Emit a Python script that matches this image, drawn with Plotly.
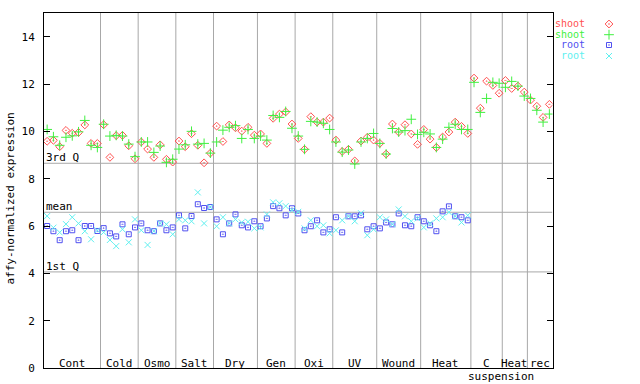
import plotly.graph_objects as go

# ---- data ----
groups = ["Cont", "Cold", "Osmo", "Salt", "Dry", "Gen", "Oxi", "UV", "Wound", "Heat", "C", "Heat", "rec"]
group_sizes = [9, 6, 6, 6, 7, 6, 6, 7, 7, 8, 5, 4, 4]

shoot_1 = [9.58, 9.62, 9.35, 10.04, 9.92, 9.95, 10.27, 9.49, 9.49,
           10.28, 8.90, 9.82, 9.83, 9.39, 8.84,
           9.55, 9.25, 8.90, 9.43, 8.82, 8.70,
           9.59, 9.35, 9.90, 9.41, 8.67, 9.08,
           10.22, 9.57, 10.27, 10.15, 10.01, 10.17, 9.84,
           9.89, 9.49, 10.55, 10.73, 10.82, 10.31,
           9.70, 9.24, 10.62, 10.39, 10.39, 10.56,
           9.63, 9.15, 9.24, 8.75, 9.59, 9.75, 9.63,
           9.49, 9.04, 10.31, 9.97, 10.28, 9.89, 9.45,
           10.08, 9.67, 9.32, 9.76, 9.97, 10.39, 10.21, 9.91,
           12.25, 10.98, 12.12, 11.94, 11.61,
           12.15, 11.81, 11.91, 11.66,
           11.32, 11.06, 10.59, 11.14]
shoot_2 = [10.08, 9.77, 9.41, 9.75, 9.81, 9.98, 10.46, 9.41, 9.32,
           10.30, 9.80, 9.83, 9.80, 9.46, 8.93,
           9.55, 9.55, 9.11, 9.38, 8.69, 8.82,
           9.25, 9.43, 10.00, 9.46, 9.49, 9.08,
           9.55, 10.05, 10.17, 10.24, 9.70, 10.08, 9.70,
           9.80, 9.63, 10.67, 10.59, 10.84, 10.13,
           9.80, 9.24, 10.42, 10.39, 10.34, 10.08,
           9.55, 9.12, 9.21, 8.62, 9.55, 9.70, 9.91,
           9.49, 9.04, 10.12, 9.97, 10.03, 10.51, 9.87,
           9.96, 9.89, 9.32, 9.67, 10.17, 10.30, 10.08, 10.08,
           12.07, 10.80, 11.39, 12.07, 12.03,
           11.86, 12.11, 11.91, 11.49,
           11.39, 10.89, 10.39, 10.73]
root_1 = [6.00, 5.78, 5.40, 5.78, 5.82, 5.40, 6.00, 6.00, 5.79,
          5.91, 5.69, 5.56, 6.07, 5.65, 5.94,
          6.11, 5.82, 5.78, 6.11, 5.82, 5.94,
          6.45, 5.90, 6.42, 6.92, 6.76, 6.80,
          6.28, 5.65, 6.11, 6.49, 6.03, 5.94, 6.20,
          5.99, 6.32, 6.84, 6.75, 6.45, 6.75,
          6.53, 5.82, 5.99, 6.24, 5.73, 5.86,
          6.37, 5.73, 6.41, 6.41, 6.45, 5.86, 5.99,
          5.90, 6.15, 6.07, 6.53, 6.03, 5.99, 6.37,
          6.20, 6.03, 5.78, 6.62, 6.83, 6.41, 6.37, 6.24]
root_2 = [6.42, 5.93, 5.73, 6.08, 6.37, 6.11, 5.78, 5.44, 5.82,
          5.73, 5.41, 5.15, 5.86, 5.31, 6.28,
          5.82, 5.20, 5.78, 6.11, 6.07, 5.65,
          6.28, 6.24, 6.20, 7.42, 6.11, 6.80,
          5.99, 6.37, 6.11, 6.28, 6.15, 6.18, 5.90,
          5.94, 6.49, 7.00, 6.96, 6.84, 6.67,
          6.60, 5.90, 6.24, 5.99, 6.03, 5.69,
          5.82, 6.24, 6.41, 6.20, 6.54, 5.61, 5.86,
          6.37, 6.28, 6.07, 6.70, 6.41, 6.20, 6.32,
          5.94, 6.11, 6.32, 6.37, 6.58, 6.41, 6.15, 6.45]

ref_lines = {"3rd Q": 8.65, "mean": 6.58, "1st Q": 4.06}
y_ticks = [0, 2, 4, 6, 8, 10, 12, 14]

series = [
    ("shoot", shoot_1, "#ff5050", "diamond-open-dot", 6),
    ("shoot", shoot_2, "#40f040", "cross-thin-open", 7),
    ("root", root_1, "#5050f0", "square-open-dot", 5),
    ("root", root_2, "#60f0f0", "x-thin-open", 6),
]

FONT = "DejaVu Sans Mono"
W, H = 640, 384
# target page-pixel geometry
PL, PR, PT, PB = 44, 552.5, 13, 368
L = PL
T = PT
B = H - PB
R = 8
plot_w = W - L - R
plot_h = H - T - B
main_end = (PR - PL) / plot_w
n_total = sum(group_sizes)


def px_to_paper_x(px):
    return (px - PL) / plot_w


def px_to_paper_y(py):
    return (PB - py) / plot_h


fig = go.Figure()
for name, vals, col, sym, sz in series:
    fig.add_trace(go.Scatter(
        x=[i + 0.5 for i in range(len(vals))], y=vals, mode="markers",
        marker=dict(symbol=sym, size=sz, color=col, line=dict(width=1, color=col)),
        showlegend=False, hoverinfo="skip"))

# legend markers on a small hidden axis (pixel-like coords)
x2_dom = [px_to_paper_x(580), 1]
leg_y = [24, 34.7, 45, 56]
for (name, vals, col, sym, sz), yy in zip(series, leg_y):
    fig.add_trace(go.Scatter(
        x=[609], y=[yy], xaxis="x2", yaxis="y2", mode="markers",
        marker=dict(symbol=sym, size=sz, color=col, line=dict(width=1, color=col)),
        showlegend=False, hoverinfo="skip"))

shapes = []
cum = 0
for s in group_sizes[:-1]:
    cum += s
    shapes.append(dict(type="line", xref="x", yref="y", x0=cum, x1=cum, y0=0, y1=15,
                       line=dict(color="#a8a8a8", width=1), layer="below"))
for lbl, v in ref_lines.items():
    shapes.append(dict(type="line", xref="x", yref="y", x0=0, x1=n_total, y0=v, y1=v,
                       line=dict(color="#a8a8a8", width=1), layer="below"))

ann = []
for lbl, v in ref_lines.items():
    ann.append(dict(text=lbl, xref="paper", yref="y", x=0.002, y=v, xanchor="left",
                    yanchor="bottom", yshift=-2, showarrow=False, borderpad=0,
                    font=dict(family=FONT, size=11, color="black")))
cum = 0
for g, s in zip(groups, group_sizes):
    ann.append(dict(text=g, xref="x", yref="paper", x=cum + s / 2, y=0, yshift=5,
                    xanchor="center", yanchor="middle", showarrow=False, borderpad=0,
                    font=dict(family=FONT, size=11, color="black")))
    cum += s
ann.append(dict(text="suspension", xref="paper", yref="paper",
                x=px_to_paper_x(501.5), y=px_to_paper_y(376.5), xanchor="center",
                yanchor="middle", showarrow=False, borderpad=0,
                font=dict(family=FONT, size=11, color="black")))
ann.append(dict(text="affy-normalized expression", xref="paper", yref="paper",
                x=0, xshift=-(PL - 10), y=px_to_paper_y(198.5), textangle=-90,
                xanchor="center", yanchor="middle", showarrow=False, borderpad=0,
                font=dict(family=FONT, size=11, color="black")))
leg_text_y = [23.5, 34.2, 44.5, 55.5]
for (name, vals, col, sym, sz), yy in zip(series, leg_text_y):
    ann.append(dict(text=name, xref="paper", yref="paper", x=px_to_paper_x(585.5),
                    y=px_to_paper_y(yy), xanchor="right", yanchor="middle",
                    showarrow=False, borderpad=0,
                    font=dict(family=FONT, size=10, color=col)))

fig.update_layout(
    width=W, height=H, margin=dict(l=L, r=R, t=T, b=B, pad=0),
    paper_bgcolor="white", plot_bgcolor="white",
    xaxis=dict(domain=[0, main_end], range=[0, n_total], showticklabels=False, ticks="",
               showgrid=False, zeroline=False, showline=True, mirror=True,
               linecolor="black", linewidth=1),
    yaxis=dict(range=[0, 15], tickvals=y_ticks, ticks="inside", ticklen=6,
               tickcolor="black", showgrid=False, zeroline=False, showline=True,
               mirror="ticks", linecolor="black", linewidth=1, ticklabelstandoff=6,
               tickfont=dict(family=FONT, size=11, color="black")),
    xaxis2=dict(domain=x2_dom, range=[580, PL + plot_w], visible=False, anchor="y2"),
    yaxis2=dict(domain=[0, 1], range=[PB, PT], visible=False, anchor="x2"),
    shapes=shapes, annotations=ann, showlegend=False,
)

fig.write_html("out.html", config={"displayModeBar": False},
               post_script="document.body.style.margin='0px';document.body.style.overflow='hidden';")
